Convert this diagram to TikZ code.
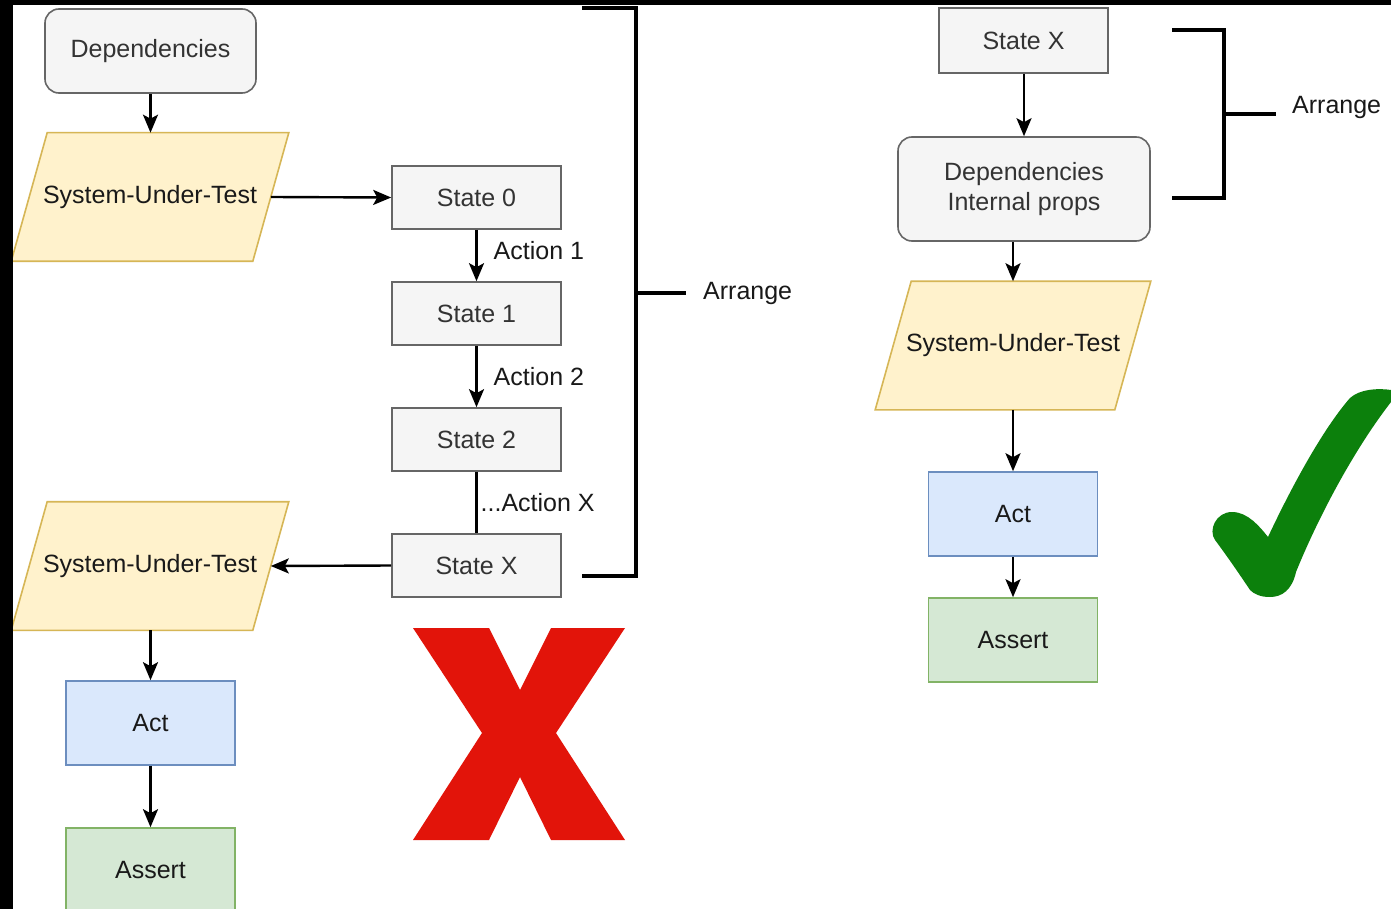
\documentclass[tikz,border=0pt]{standalone}
\usepackage{fontspec}
\setmainfont{Liberation Sans}
\usetikzlibrary{arrows.meta,backgrounds,calc}

\definecolor{grayfill}{HTML}{F5F5F5}
\definecolor{graystroke}{HTML}{666666}
\definecolor{sutfill}{HTML}{FFF2CC}
\definecolor{sutstroke}{HTML}{D6B656}
\definecolor{actfill}{HTML}{DAE8FC}
\definecolor{actstroke}{HTML}{6C8EBF}
\definecolor{asfill}{HTML}{D5E8D4}
\definecolor{asstroke}{HTML}{82B366}
\definecolor{txt}{HTML}{333333}
\definecolor{xred}{RGB}{226,20,10}
\definecolor{cgreen}{RGB}{12,128,12}

\tikzset{
 base/.style={font=\fontsize{25}{30}\selectfont, text=txt, inner sep=0pt, line width=1.6pt, align=center},
 grayrect/.style={base, draw=graystroke, fill=grayfill, minimum width=169, minimum height=63},
 roundbox/.style={base, draw=graystroke, fill=grayfill, rounded corners=14},
 sutbox/.style={base, text=black!90, minimum width=240, minimum height=127},
 sutshape/.style={fill=sutfill, draw=sutstroke, line width=1.6pt},
 actbox/.style={base, text=black!90, draw=actstroke, fill=actfill, minimum width=169, minimum height=84},
 assertbox/.style={base, text=black!90, draw=asstroke, fill=asfill, minimum width=169, minimum height=84},
 conn/.style={line width=2.4pt, -{Stealth[length=18pt,width=15pt,inset=4pt]}},
 plainline/.style={line width=2.4pt},
 bracket/.style={line width=3.5pt, line cap=butt, line join=miter},
 lbl/.style={font=\fontsize{25}{30}\selectfont, text=black!90, inner sep=0pt},
}

\begin{document}
\begin{tikzpicture}[x=1pt,y=-1pt]
\useasboundingbox (0,0) rectangle (1391,909);
\begin{scope}[on background layer]
 \fill[white] (0,0) rectangle (1391,909);
\end{scope}

% ---------- left column ----------
\node[roundbox, minimum width=211, minimum height=84] (dep1) at (150.5,51) {Dependencies};
\node[sutbox] (sut1) at (150,197) {System-Under-Test};
\node[grayrect] (s0) at (476.5,197.5) {State 0};
\node[grayrect] (s1) at (476.5,313.5) {State 1};
\node[grayrect] (s2) at (476.5,439.5) {State 2};
\node[grayrect] (sx) at (476.5,565.5) {State X};
\node[sutbox] (sut2) at (150,566) {System-Under-Test};
\node[actbox] (act1) at (150.5,723) {Act};
\node[assertbox] (as1) at (150.5,870) {Assert};

% ---------- right column ----------
\node[grayrect, minimum height=65] (sxr) at (1023.5,40.5) {State X};
\node[roundbox, minimum width=252, minimum height=104] (depr) at (1024,189) {Dependencies\\Internal props};
\node[sutbox, minimum width=238] (sut3) at (1013,345.5) {System-Under-Test};
\node[actbox] (act2) at (1013,514) {Act};
\node[assertbox] (as2) at (1013,640) {Assert};

% parallelogram outlines behind the SUT texts
\begin{scope}[on background layer]
 \foreach \n in {sut1,sut2,sut3}{
  \filldraw[sutshape] ($(\n.north west)+(18,0)$) -- ($(\n.north east)+(18,0)$)
    -- ($(\n.south east)+(-18,0)$) -- ($(\n.south west)+(-18,0)$) -- cycle;
 }
\end{scope}

% ---------- connectors ----------
\draw[conn] (dep1.south) -- (dep1.south |- sut1.north);
\draw[conn] (sut1.east) -- (s0.west);
\draw[conn] (s0) -- node[lbl, anchor=west, xshift=16, yshift=5] (a1) {Action 1} (s1);
\draw[conn] (s1) -- node[lbl, anchor=west, xshift=16] (a2) {Action 2} (s2);
\draw[plainline] (s2) -- node[lbl, anchor=west, xshift=3] (ax) {...Action X} (sx);
\draw[conn] (sx.west) -- (sut2.east);
\draw[conn] (sut2.south -| act1) -- (act1);
\draw[conn] (act1) -- (as1);

\draw[conn] (sxr.south -| depr) -- (depr.north);
\draw[conn] (depr.south -| sut3) -- (sut3.north);
\draw[conn] (sut3) -- (act2);
\draw[conn] (act2) -- (as2);

% ---------- brackets ----------
\coordinate (bl1) at (582,8);
\coordinate (bl2) at (636,8);
\coordinate (bl3) at (636,576);
\coordinate (bl4) at (582,576);
\coordinate (blm) at (636,293);
\node[lbl, anchor=west] (arr1) at (703,293) {Arrange};
\draw[bracket] (bl1) -- (bl2) -- (bl3) -- (bl4);
\draw[bracket] (blm) -- ++(50,0);

\coordinate (br1) at (1172,30);
\coordinate (br2) at (1224,30);
\coordinate (br3) at (1224,198);
\coordinate (br4) at (1172,198);
\coordinate (brm) at (1224,114);
\node[lbl, anchor=west] (arr2) at (1292,107) {Arrange};
\draw[bracket] (br1) -- (br2) -- (br3) -- (br4);
\draw[bracket] (brm) -- ++(52,0);

% ---------- red X ----------
\fill[xred] (413,628) -- (489,628) -- (520,690) -- (551,628) -- (625,628) -- (556,733)
  -- (625,840) -- (551,840) -- (520,777) -- (489,840) -- (413,840) -- (482,733) -- cycle;

% ---------- green check ----------
\fill[cgreen] (1215,540)
  .. controls (1208,530) and (1216,512) .. (1232,512)
  .. controls (1248,512) and (1260,527) .. (1268,537)
  .. controls (1290,490) and (1322,430) .. (1350,398)
  .. controls (1360,389) and (1378,388) .. (1391,390)
  -- (1391,402)
  .. controls (1350,455) and (1315,525) .. (1296,572)
  .. controls (1292,590) and (1282,597) .. (1270,597)
  .. controls (1260,597) and (1254,594) .. (1250,590)
  .. controls (1240,575) and (1227,556) .. (1215,540) -- cycle;

% ---------- black frame strips ----------
\fill[black] (0,0) rectangle (13,909);
\fill[black] (0,0) rectangle (1391,5);
\end{tikzpicture}
\end{document}
